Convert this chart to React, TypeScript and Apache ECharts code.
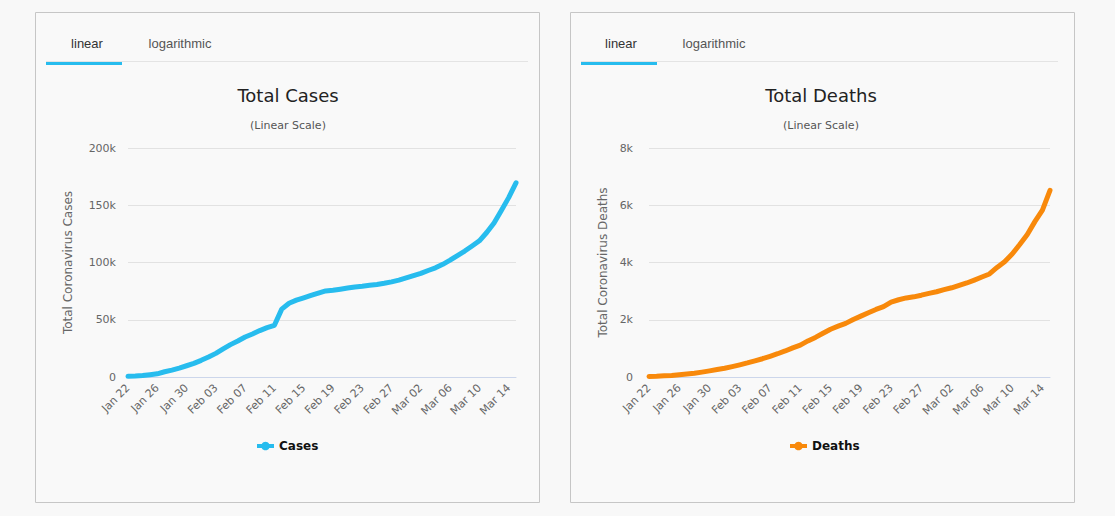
import React, { useEffect, useRef } from "react";
import * as echarts from "echarts";

const dates = [
  "Jan 22", "Jan 23", "Jan 24", "Jan 25", "Jan 26", "Jan 27", "Jan 28", "Jan 29", "Jan 30", "Jan 31",
  "Feb 01", "Feb 02", "Feb 03", "Feb 04", "Feb 05", "Feb 06", "Feb 07", "Feb 08", "Feb 09", "Feb 10",
  "Feb 11", "Feb 12", "Feb 13", "Feb 14", "Feb 15", "Feb 16", "Feb 17", "Feb 18", "Feb 19", "Feb 20",
  "Feb 21", "Feb 22", "Feb 23", "Feb 24", "Feb 25", "Feb 26", "Feb 27", "Feb 28", "Feb 29", "Mar 01",
  "Mar 02", "Mar 03", "Mar 04", "Mar 05", "Mar 06", "Mar 07", "Mar 08", "Mar 09", "Mar 10", "Mar 11",
  "Mar 12", "Mar 13", "Mar 14", "Mar 15",
];

const cases = [
  580, 845, 1317, 2015, 2800, 4581, 6058, 7813, 9823, 11950,
  14553, 17391, 20630, 24545, 28266, 31439, 34876, 37552, 40553, 43099,
  45134, 59287, 64438, 67100, 69197, 71329, 73332, 75184, 75700, 76677,
  77673, 78651, 79205, 80087, 80828, 81820, 83112, 84615, 86604, 88585,
  90443, 93016, 95314, 98425, 102050, 106099, 109991, 114381, 118948, 126214,
  134576, 145483, 156653, 169593,
];

const deaths = [
  17, 25, 41, 56, 80, 106, 132, 170, 213, 259,
  304, 362, 426, 492, 565, 638, 724, 813, 910, 1018,
  1115, 1261, 1383, 1526, 1669, 1775, 1873, 2009, 2126, 2247,
  2360, 2460, 2618, 2699, 2763, 2800, 2858, 2923, 2977, 3050,
  3117, 3202, 3285, 3387, 3494, 3599, 3827, 4025, 4296, 4628,
  4981, 5428, 5833, 6519,
];

const tabLabels = ["linear", "logarithmic"];
const panelTitles = ["Total Cases", "Total Deaths"];
const subtitleText = "(Linear Scale)";
const yTitles = ["Total Coronavirus Cases", "Total Coronavirus Deaths"];
const seriesNames = ["Cases", "Deaths"];

const CASES_COLOR = "#27bcee";
const DEATHS_COLOR = "#f8890b";
const AXIS_FONT = "'DejaVu Sans', Verdana, sans-serif";
const TAB_FONT = "'Liberation Sans', Arial, sans-serif";
const LEGEND_ICON = "path://M0,3.2h16v3.6h-16z M8,1a4,4 0 1,1 -0.01,0z";

const kFormatter = (v: number) => (v === 0 ? "0" : v / 1000 + "k");

export default function App() {
  const ref = useRef<HTMLDivElement>(null);

  useEffect(() => {
    if (!ref.current) return;
    const chart = echarts.init(ref.current, undefined, { renderer: "svg" });

    const panels = [
      { x: 35, w: 504, tab1: 87, tab2: 180, ulX: 46, ulW: 76, lineEnd: 528, cx: 288 },
      { x: 570, w: 504, tab1: 621, tab2: 714, ulX: 581, ulW: 76, lineEnd: 1058, cx: 821 },
    ];

    const graphic: any[] = [];
    panels.forEach((p) => {
      graphic.push({
        type: "rect",
        shape: { x: p.x + 0.5, y: 12.5, width: p.w, height: 490 },
        style: { fill: "#f9f9f9", stroke: "#c6c6c6", lineWidth: 1 },
        z: -10,
      });
      graphic.push({
        type: "line",
        shape: { x1: p.ulX, y1: 61.5, x2: p.lineEnd, y2: 61.5 },
        style: { stroke: "#e4e4e4", lineWidth: 1 },
      });
      graphic.push({
        type: "rect",
        shape: { x: p.ulX, y: 62, width: p.ulW, height: 3 },
        style: { fill: "#27bcee" },
      });
      graphic.push({
        type: "text",
        x: p.tab1,
        y: 43,
        style: {
          text: tabLabels[0],
          fill: "#333333",
          font: `13px ${TAB_FONT}`,
          textAlign: "center",
          textVerticalAlign: "middle",
        },
      });
      graphic.push({
        type: "text",
        x: p.tab2,
        y: 43,
        style: {
          text: tabLabels[1],
          fill: "#555555",
          font: `13px ${TAB_FONT}`,
          textAlign: "center",
          textVerticalAlign: "middle",
        },
      });
    });

    const grids = [
      { left: 128, top: 148, width: 388, height: 229 },
      { left: 649, top: 148, width: 401, height: 229 },
    ];

    const titleStyle = { fontFamily: AXIS_FONT, fontSize: 18, fontWeight: "normal", color: "#222" };
    const subStyle = { fontFamily: AXIS_FONT, fontSize: 11, fontWeight: "normal", color: "#555" };
    const legendText = { fontFamily: AXIS_FONT, fontSize: 12, fontWeight: "bold", color: "#111" };

    const option: any = {
      animation: false,
      backgroundColor: "#f8f8f8",
      graphic,
      title: [
        { text: panelTitles[0], left: panels[0].cx, top: 86, textAlign: "center", padding: 0, textStyle: titleStyle },
        { text: subtitleText, left: panels[0].cx, top: 120, textAlign: "center", padding: 0, textStyle: subStyle },
        { text: panelTitles[1], left: panels[1].cx, top: 86, textAlign: "center", padding: 0, textStyle: titleStyle },
        { text: subtitleText, left: panels[1].cx, top: 120, textAlign: "center", padding: 0, textStyle: subStyle },
      ],
      legend: [
        {
          data: [{ name: seriesNames[0], icon: LEGEND_ICON, itemStyle: { color: CASES_COLOR, borderWidth: 0 } }],
          left: 257,
          top: 440,
          itemWidth: 17,
          itemHeight: 9,
          itemGap: 5,
          padding: 0,
          itemStyle: { borderWidth: 0 },
          textStyle: legendText,
        },
        {
          data: [{ name: seriesNames[1], icon: LEGEND_ICON, itemStyle: { color: DEATHS_COLOR, borderWidth: 0 } }],
          left: 790,
          top: 440,
          itemWidth: 17,
          itemHeight: 9,
          padding: 0,
          itemStyle: { borderWidth: 0 },
          textStyle: legendText,
        },
      ],
      grid: grids.map((g) => ({ ...g, containLabel: false })),
      xAxis: grids.map((_, i) => ({
        type: "category",
        gridIndex: i,
        data: dates,
        boundaryGap: false,
        axisLine: { lineStyle: { color: "#ccd6eb", width: 1 } },
        axisTick: { show: false },
        axisLabel: {
          interval: 3,
          rotate: 45,
          margin: 9,
          color: "#666",
          fontSize: 11,
          fontFamily: AXIS_FONT,
        },
        splitLine: { show: false },
      })),
      yAxis: [
        {
          type: "value",
          gridIndex: 0,
          min: 0,
          max: 200000,
          interval: 50000,
          name: yTitles[0],
          nameLocation: "middle",
          nameGap: 54,
          nameRotate: 90,
          nameTextStyle: { color: "#666", fontSize: 12, fontFamily: AXIS_FONT },
          axisLine: { show: false },
          axisTick: { show: false },
          axisLabel: { color: "#666", fontSize: 11, fontFamily: AXIS_FONT, margin: 12, formatter: kFormatter },
          splitLine: { lineStyle: { color: "#e2e2e2", width: 1 } },
        },
        {
          type: "value",
          gridIndex: 1,
          min: 0,
          max: 8000,
          interval: 2000,
          name: yTitles[1],
          nameLocation: "middle",
          nameGap: 40,
          nameRotate: 90,
          nameTextStyle: { color: "#666", fontSize: 12, fontFamily: AXIS_FONT },
          axisLine: { show: false },
          axisTick: { show: false },
          axisLabel: { color: "#666", fontSize: 11, fontFamily: AXIS_FONT, margin: 16, formatter: kFormatter },
          splitLine: { lineStyle: { color: "#e2e2e2", width: 1 } },
        },
      ],
      series: [
        {
          name: seriesNames[0],
          type: "line",
          xAxisIndex: 0,
          yAxisIndex: 0,
          data: cases,
          symbol: "circle",
          symbolSize: 8,
          showSymbol: false,
          itemStyle: { color: CASES_COLOR },
          lineStyle: { color: CASES_COLOR, width: 5, cap: "round", join: "round" },
        },
        {
          name: seriesNames[1],
          type: "line",
          xAxisIndex: 1,
          yAxisIndex: 1,
          data: deaths,
          symbol: "circle",
          symbolSize: 8,
          showSymbol: false,
          itemStyle: { color: DEATHS_COLOR },
          lineStyle: { color: DEATHS_COLOR, width: 5, cap: "round", join: "round" },
        },
      ],
    };

    chart.setOption(option);
    return () => chart.dispose();
  }, []);

  return (
    <div
      ref={ref}
      style={{ position: "absolute", left: 0, top: 0, width: 1115, height: 516 }}
    />
  );
}
